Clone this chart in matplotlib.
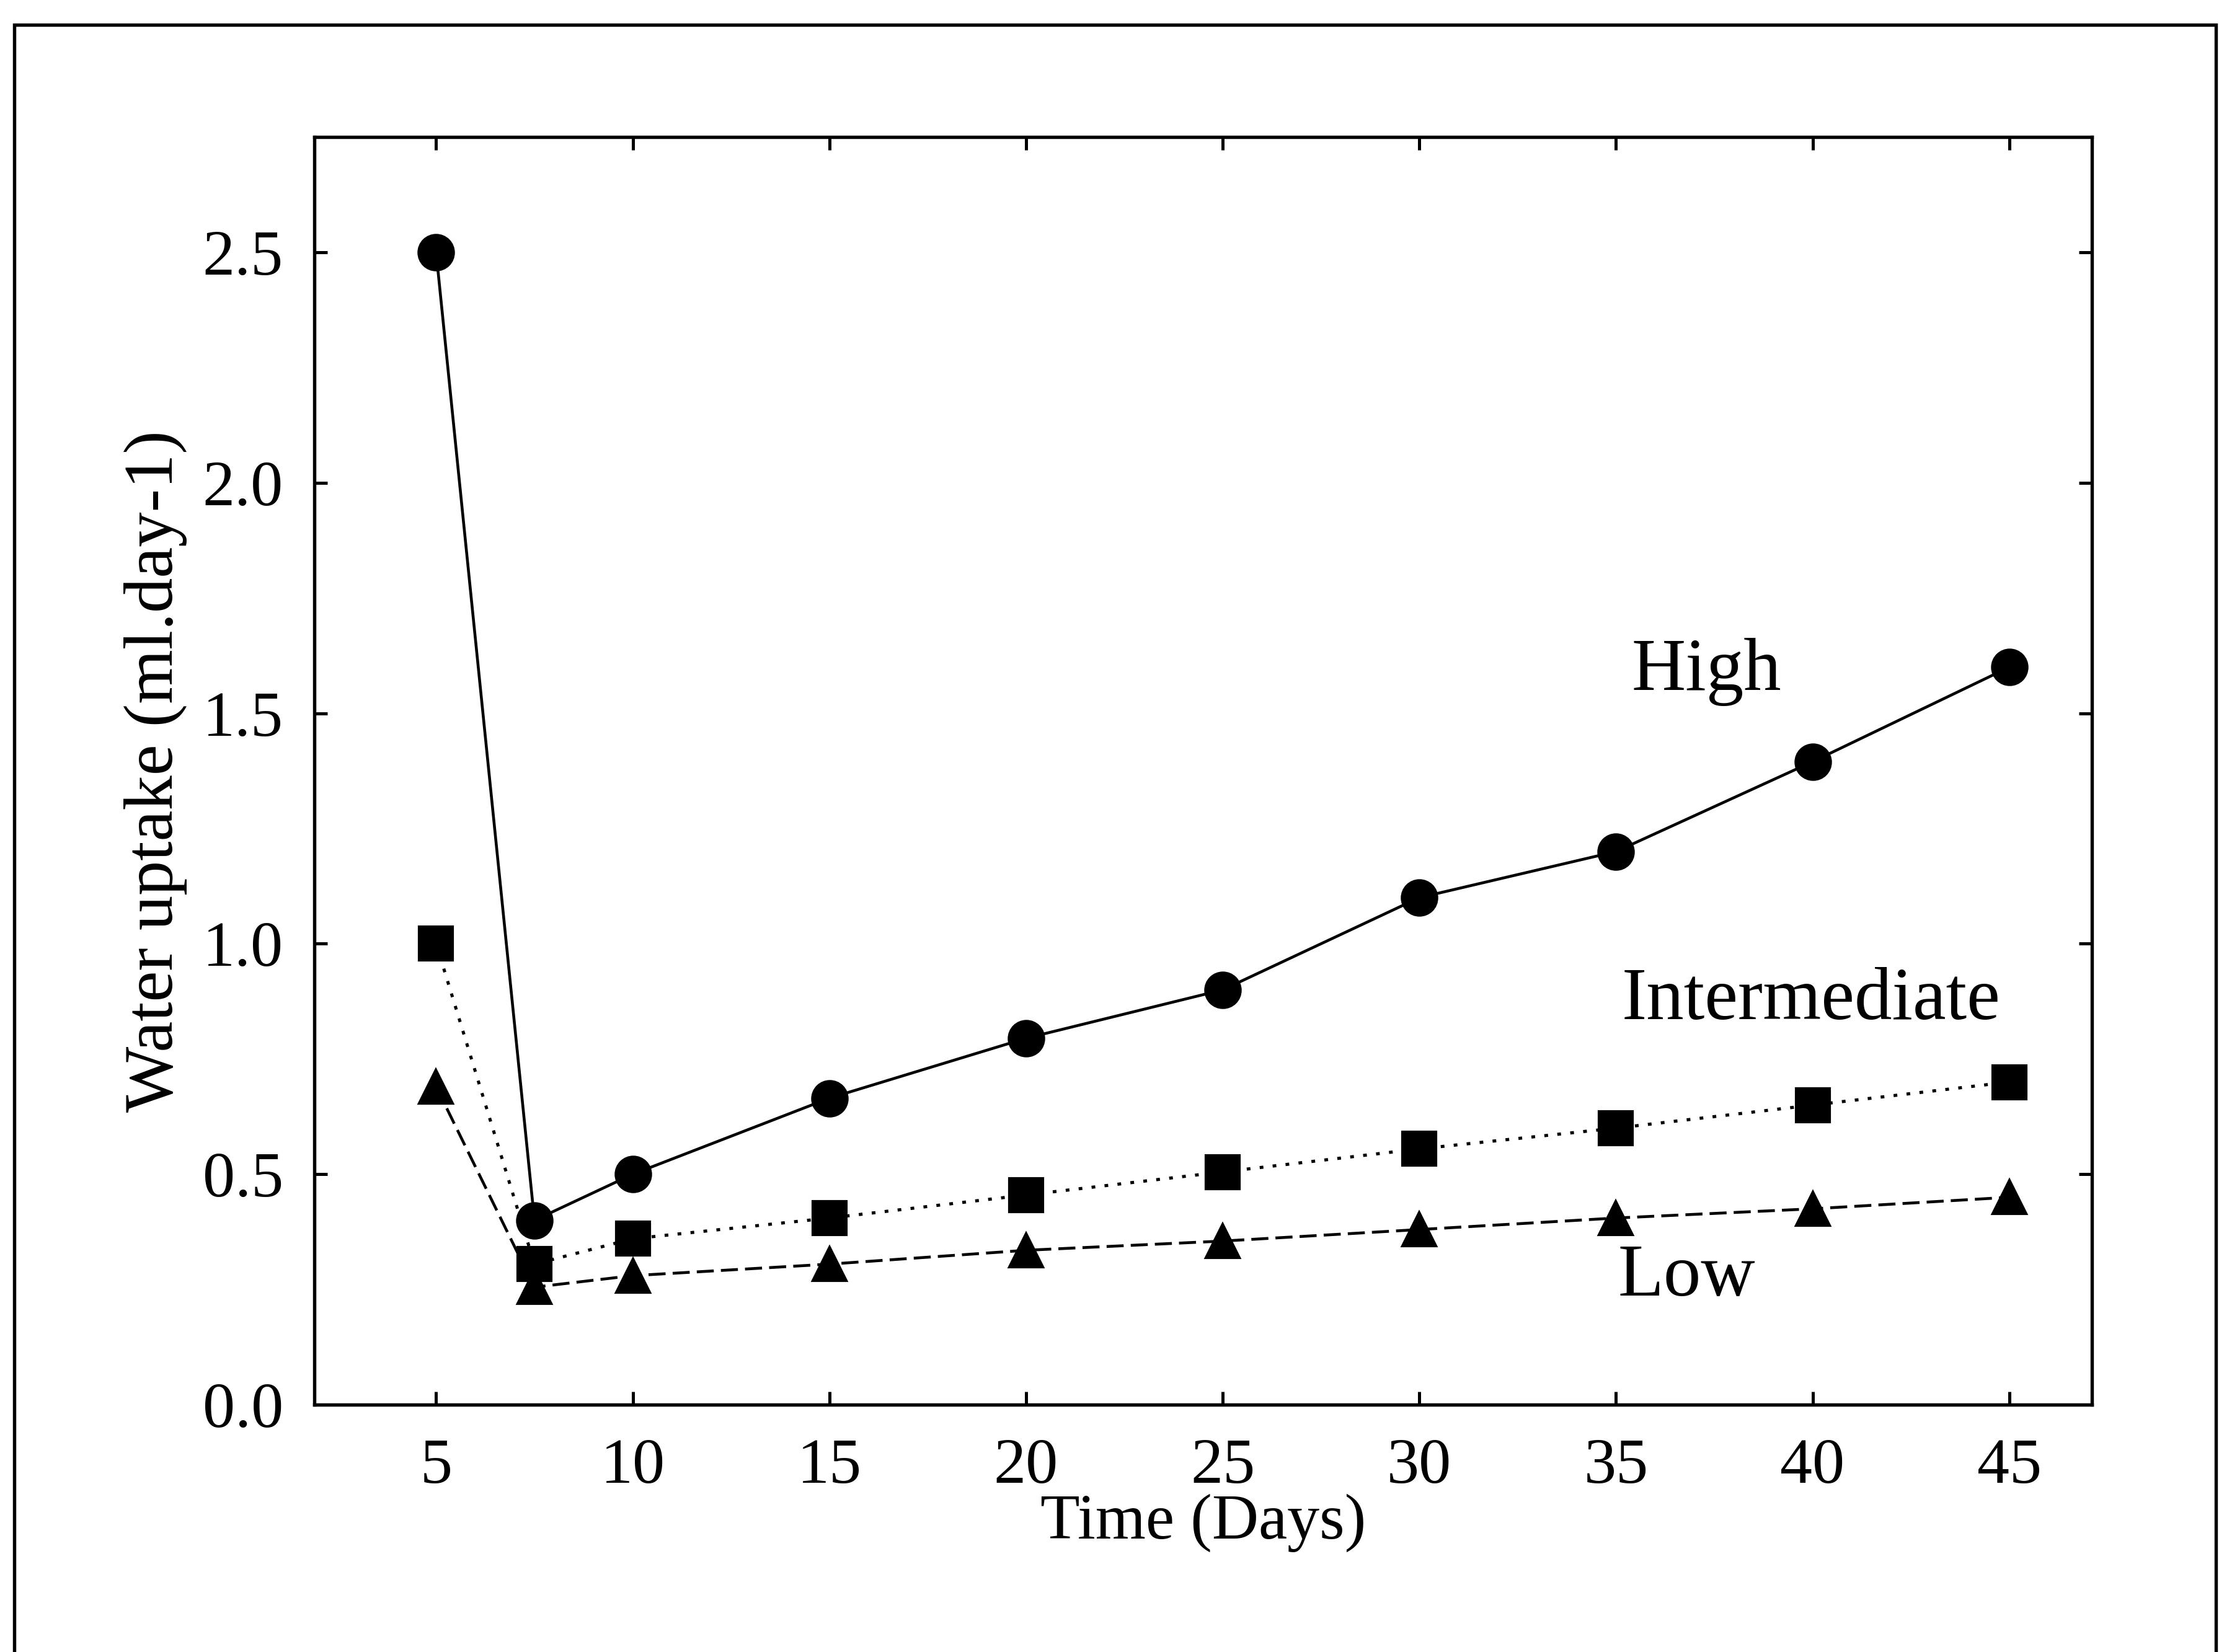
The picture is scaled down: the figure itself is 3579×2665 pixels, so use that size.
import matplotlib
matplotlib.use("Agg")
import matplotlib.pyplot as plt
from matplotlib.patches import Rectangle

plt.rcParams['font.family'] = ['Liberation Serif', 'DejaVu Serif']

days = [5, 7.5, 10, 15, 20, 25, 30, 35, 40, 45]
high = [2.5, 0.40, 0.50, 0.665, 0.795, 0.90, 1.10, 1.20, 1.395, 1.60]
intermediate = [1.0, 0.305, 0.36, 0.405, 0.455, 0.505, 0.555, 0.60, 0.65, 0.70]
low = [0.69, 0.255, 0.28, 0.305, 0.335, 0.355, 0.38, 0.405, 0.425, 0.45]

x_ticks = [5, 10, 15, 20, 25, 30, 35, 40, 45]
y_ticks = [0.0, 0.5, 1.0, 1.5, 2.0, 2.5]

fig = plt.figure(figsize=(3579 / 300, 2665 / 300), dpi=300)
ax = fig.add_axes([0.1416, 0.1497, 0.9427 - 0.1416, 0.917 - 0.1497])

ax.plot(days, high, color='black', linestyle='-', linewidth=1.1,
        marker='o', markersize=13.5)
ax.plot(days, intermediate, color='black', linestyle=(0, (1.2, 3.0)), linewidth=1.2,
        marker='s', markersize=13)
ax.plot(days, low, color='black', linestyle=(0, (6, 2.5)), linewidth=1.1,
        marker='^', markersize=13)

ax.text(37.3, 1.59, 'High', fontsize=29, ha='center', va='center')
ax.text(39.96, 0.875, 'Intermediate', fontsize=29, ha='center', va='center')
ax.text(36.8, 0.276, 'Low', fontsize=29, ha='center', va='center')

ax.set_xlim(1.9, 47.1)
ax.set_ylim(0, 2.75)
ax.set_xticks(x_ticks)
ax.set_yticks(y_ticks)
ax.set_yticklabels(['%.1f' % v for v in y_ticks])
ax.tick_params(direction='in', top=True, right=True, length=5, width=1.2,
               labelsize=25)
ax.tick_params(axis='x', pad=13)
ax.tick_params(axis='y', pad=12)
for s in ax.spines.values():
    s.set_linewidth(1.3)

ax.set_xlabel('Time (Days)', fontsize=25, labelpad=-1)
ax.set_ylabel('Water uptake (ml.day-1)', fontsize=27, labelpad=6)

# outer frame around the figure (bottom edge runs off the page)
fig.patches.append(Rectangle((0.0064, -0.05), 0.9922, 1.035, transform=fig.transFigure,
                             fill=False, edgecolor='black', linewidth=1.3))

fig.savefig('out.png', dpi=300)
